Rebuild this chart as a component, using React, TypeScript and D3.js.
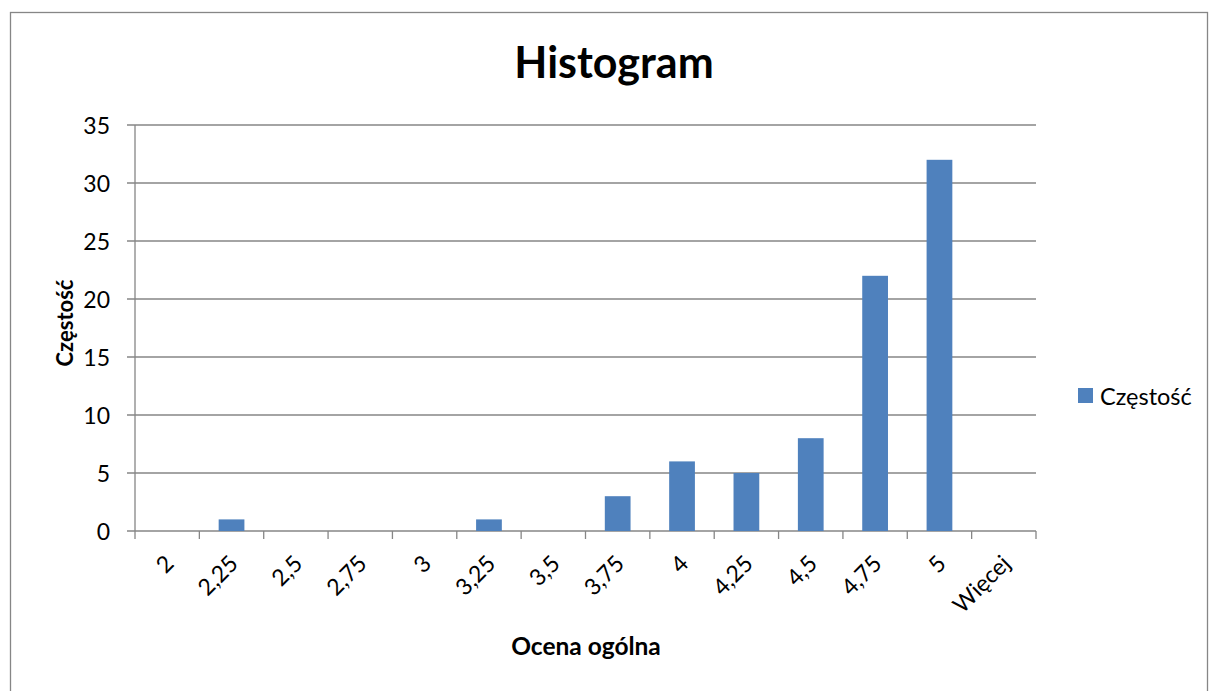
import React from "react";
import * as d3 from "d3";

const categories = ["2", "2,25", "2,5", "2,75", "3", "3,25", "3,5", "3,75", "4", "4,25", "4,5", "4,75", "5", "Więcej"];
const values = [0, 1, 0, 0, 0, 1, 0, 3, 6, 5, 8, 22, 32, 0];
const yTicks = [0, 5, 10, 15, 20, 25, 30, 35];
const seriesName = "Częstość";
const chartTitle = "Histogram";
const xTitle = "Ocena ogólna";
const yTitle = "Częstość";

const W = 1209;
const H = 691;
const plot = { left: 135, right: 1036, top: 125, bottom: 531 };
const FONT = "Lato, 'Open Sans', sans-serif";
const GRID = "#868686";
const BAR = "#4F81BD";

export default function App() {
  const x = d3.scaleBand<string>().domain(categories).range([plot.left, plot.right]).paddingInner(0.6).paddingOuter(0.3);
  const xb = d3.scaleBand<string>().domain(categories).range([plot.left, plot.right]).padding(0);
  const y = d3.scaleLinear().domain([0, 35]).range([plot.bottom, plot.top]);
  const step = xb.step();
  const boundaries = d3.range(categories.length + 1).map((i) => plot.left + i * step);

  return (
    <svg width={W} height={H} style={{ position: "fixed", left: 0, top: 0, background: "#fff" }} fontFamily={FONT}>
      <rect x={0} y={0} width={W} height={H} fill="#fff" />
      <rect x={10.5} y={12.5} width={1197} height={700} fill="none" stroke={GRID} strokeWidth={1.3} />
      <text x={614} y={78} textAnchor="middle" fontSize={43} fontWeight="bold" fill="#000">{chartTitle}</text>

      {yTicks.map((t) => (
        <g key={t}>
          <line x1={plot.left - 8} x2={plot.right} y1={y(t)} y2={y(t)} stroke={GRID} strokeWidth={1.3} />
          <text x={110} y={y(t)} textAnchor="end" dominantBaseline="central" fontSize={23} fill="#000">{t}</text>
        </g>
      ))}
      <line x1={plot.left} x2={plot.left} y1={plot.top} y2={plot.bottom} stroke={GRID} strokeWidth={1.3} />
      {boundaries.map((bx, i) => (
        <line key={i} x1={bx} x2={bx} y1={plot.bottom} y2={plot.bottom + 8} stroke={GRID} strokeWidth={1.3} />
      ))}

      {categories.map((c, i) => (
        <rect key={c} x={x(c)} y={y(values[i])} width={x.bandwidth()} height={plot.bottom - y(values[i])} fill={BAR} />
      ))}

      {categories.map((c) => {
        const cx = (xb(c) as number) + step / 2 + 8;
        const cy = 565;
        return (
          <text key={c} x={cx} y={cy} textAnchor="end" fontSize={23} fill="#000" transform={`rotate(-45 ${cx} ${cy})`}>{c}</text>
        );
      })}

      <text x={586} y={655} textAnchor="middle" fontSize={24.5} fontWeight="bold" fill="#000">{xTitle}</text>
      <text x={73} y={323} textAnchor="middle" fontSize={22} fontWeight="bold" fill="#000" transform="rotate(-90 73 323)">{yTitle}</text>

      <rect x={1078} y={388} width={15} height={15} fill={BAR} />
      <text x={1100} y={396} dominantBaseline="central" fontSize={23.5} fill="#000">{seriesName}</text>
    </svg>
  );
}
